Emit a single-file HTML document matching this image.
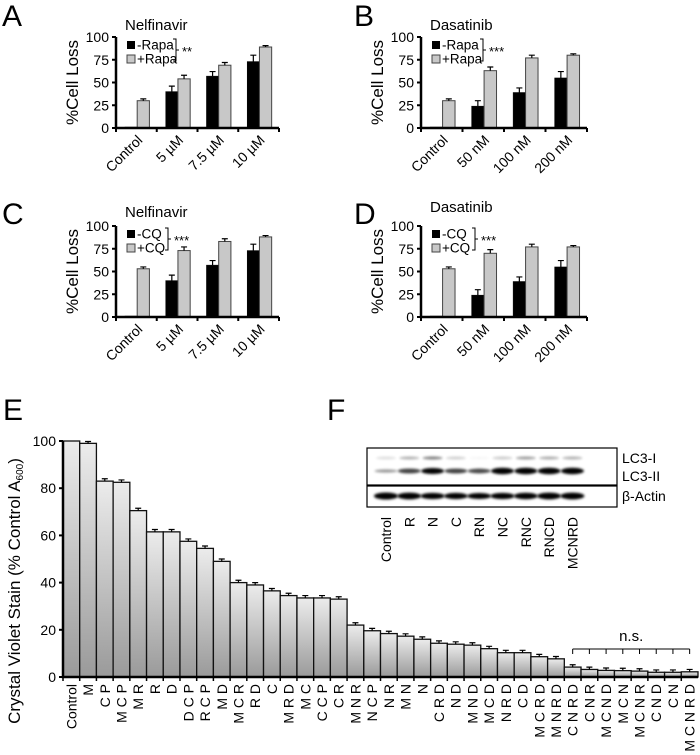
<!DOCTYPE html>
<html><head><meta charset="utf-8"><style>
html,body{margin:0;padding:0;background:#fff;}
svg{display:block;font-family:"Liberation Sans",Arial,sans-serif;}
</style></head><body>
<svg id="fig" width="700" height="755" viewBox="0 0 700 755" xmlns="http://www.w3.org/2000/svg">
<defs>
<linearGradient id="barGrad" x1="0" y1="0" x2="0" y2="1">
<stop offset="0" stop-color="#ececec"/><stop offset="1" stop-color="#9a9a9a"/>
</linearGradient>
<filter id="blur" x="-20%" y="-200%" width="140%" height="500%"><feGaussianBlur stdDeviation="1.2"/></filter>
</defs>
<g font-size="30" fill="#000">
<text x="2" y="26">A</text>
<text x="354" y="26">B</text>
<text x="2" y="224">C</text>
<text x="354" y="224">D</text>
<text x="3" y="420">E</text>
<text x="327" y="420">F</text>
</g>
</svg>
<script>
const NS='http://www.w3.org/2000/svg';
const svg=document.getElementById('fig');
function mk(tag,attrs,parent,text){const e=document.createElementNS(NS,tag);for(const k in attrs)e.setAttribute(k,attrs[k]);if(text!==undefined)e.textContent=text;(parent||svg).appendChild(e);return e;}

// ---- Panels A-D data ----
const nelfLabels=['Control','5 µM','7.5 µM','10 µM'];
const dasaLabels=['Control','50 nM','100 nM','200 nM'];
const aBlack=[1,40,57,73], aBlackErr=[0,6,5,7];
const aGray=[30,54,69,89], aGrayErr=[2,4,3,1.5];
const bBlack=[1,24,39,55], bBlackErr=[0,6,5,7];
const bGray=[30,63,77,80], bGrayErr=[2,4,3,1.5];
const cBlack=[1,40,57,73], cBlackErr=[0,6,5,7];
const cGray=[53,73,83,88], cGrayErr=[2,4,3,1.5];
const dBlack=[1,24,39,55], dBlackErr=[0,6,5,7];
const dGray=[53,70,77,77], dGrayErr=[2,4,3,1.5];
const smallTicks=[0,25,50,75,100];

function smallPanel(id,ox,oy,w,title,titleDy,cats,blk,blkE,gry,gryE,leg,brX,stars){
  const h=91, g=mk('g',{});
  
  
  const y=v=>oy-v/100*h, gw=w/4;
  cats.forEach((c,i)=>{
    const x0=ox+gw*i;
    [[blk,blkE,'#000',0.22],[gry,gryE,'#c8c8c8',0.52]].forEach(([arr,err,col,off],s)=>{
      const bx=x0+gw*off, bw=gw*0.3, top=y(arr[i]);
      const r=mk('rect',{x:bx,y:top,width:bw,height:oy-top,fill:col,stroke:s?'#444':'#000','stroke-width':s?1:0.5},g);
      
      
      if(err[i]>0){const cx=bx+bw/2,et=y(arr[i]+err[i]);
        mk('path',{d:`M${cx},${top}V${et}M${cx-3},${et}H${cx+3}`,stroke:'#000','stroke-width':1.2,fill:'none'},g);}
    });
    const t=mk('text',{x:x0+gw/2+7,y:oy+13,'font-size':14,'text-anchor':'end',transform:`rotate(-45 ${x0+gw/2+7} ${oy+13})`},g,c);
    
    
  });
  mk('path',{d:`M${ox},${oy-h}V${oy}H${ox+w}`,stroke:'#000','stroke-width':2.5,fill:'none'},g);
  for(let i=0;i<=4;i++)mk('line',{x1:ox+gw*i,x2:ox+gw*i,y1:oy,y2:oy+4,stroke:'#000','stroke-width':2},g);
  smallTicks.forEach(v=>{
    mk('line',{x1:ox-4,x2:ox,y1:y(v),y2:y(v),stroke:'#000','stroke-width':2},g);
    const t=mk('text',{x:ox-7,y:y(v)+5,'font-size':14,'text-anchor':'end'},g,v);
    
    
  });
  const yt=mk('text',{x:0,y:0,'font-size':17,'text-anchor':'middle',transform:`translate(${ox-38},${oy-h/2}) rotate(-90)`},g,'%Cell Loss');
  
  
  const tt=mk('text',{x:ox+9,y:oy-h+titleDy,'font-size':15},g,title);
  
  
  const top=oy-h;
  const l1=mk('rect',{x:ox+11,y:top+4,width:8,height:8,fill:'#000'},g);
  
  
  const l2=mk('rect',{x:ox+11,y:top+18,width:8,height:8,fill:'#c8c8c8',stroke:'#444','stroke-width':1},g);
  
  
  const t1=mk('text',{x:ox+21,y:top+12.5,'font-size':13.5},g,leg[0]);
  
  
  const t2=mk('text',{x:ox+21,y:top+26.5,'font-size':13.5},g,leg[1]);
  
  
  const bx=ox+brX;
  mk('path',{d:`M${bx-3},${top+2}H${bx}V${top+24}H${bx-3}M${bx},${top+13}H${bx+3}`,stroke:'#000','stroke-width':1,fill:'none'},g);
  const st=mk('text',{x:bx+6,y:top+19,'font-size':13},g,stars);
  
  
}
smallPanel('a',116,128,163,'Nelfinavir',-7,nelfLabels,aBlack,aBlackErr,aGray,aGrayErr,['-Rapa','+Rapa'],60,'**');
smallPanel('b',421,128,166,'Dasatinib',-7,dasaLabels,bBlack,bBlackErr,bGray,bGrayErr,['-Rapa','+Rapa'],62,'***');
smallPanel('c',116,317,163,'Nelfinavir',-9,nelfLabels,cBlack,cBlackErr,cGray,cGrayErr,['-CQ','+CQ'],52,'***');
smallPanel('d',421,317,166,'Dasatinib',-14,dasaLabels,dBlack,dBlackErr,dGray,dGrayErr,['-CQ','+CQ'],54,'***');

// ---- Panel E data ----
const eCats=['Control','M','C P','M C P','M R','R','D','D C P','R C P','M D','M C R','R D','C','M R D','M C','C C P','C R','M N R','N C P','N R','M N','N','C R D','N D','M N D','M C D','N R D','C D','M C R D','M N R D','C N R D','C N R','M C N D','M C N','M C N R','C N D','C N','M C N R D'];
const eVals=[100,99,83,82.5,70.5,61.5,61.5,57.5,54.5,49,40,39,36.5,34.5,33.5,33.5,33,22,19.6,18.4,17.3,16,14.3,13.9,13.5,12,10.3,10.3,8.6,7.7,4.2,3.2,2.8,2.7,2.5,2,2,2.2];
const eErr=[0,0.8,1,1,1,1,1,1,1,1,1,1,1,1,1,1,1,1,1,1,1,1,1,1,1,1,1,1,1,1,1,1,1,1,1,1,1,1];
const eTicks=[0,20,40,60,80,100];
(function(){
  const ox=63, oy=677, h=236, w=635;
  const g=mk('g',{});
  
  
  const y=v=>oy-v/100*h, bw=w/eCats.length;
  eCats.forEach((c,i)=>{
    const x=ox+bw*i, top=y(eVals[i]);
    const r=mk('rect',{x:x,y:top,width:bw,height:oy-top,fill:'url(#barGrad)',stroke:'#111','stroke-width':1.3},g);
    
    
    if(eErr[i]>0){const cx=x+bw/2,et=y(eVals[i]+eErr[i]);
      mk('path',{d:`M${cx},${top}V${et}M${cx-3},${et}H${cx+3}`,stroke:'#000','stroke-width':1.2,fill:'none'},g);}
    mk('line',{x1:x,x2:x,y1:oy,y2:oy+4,stroke:'#000','stroke-width':1.5},g);
    const lx=x+bw/2+5;
    const t=mk('text',{x:lx,y:oy+7,'font-size':14,'text-anchor':'end',transform:`rotate(-90 ${lx} ${oy+7})`},g,c);
    
    
  });
  mk('path',{d:`M${ox},${y(100)}V${oy}H${ox+w}`,stroke:'#000','stroke-width':2.5,fill:'none'},g);
  eTicks.forEach(v=>{
    mk('line',{x1:ox-4,x2:ox,y1:y(v),y2:y(v),stroke:'#000','stroke-width':2},g);
    const t=mk('text',{x:ox-7,y:y(v)+5,'font-size':14,'text-anchor':'end'},g,v);
    
    
  });
  const yt=mk('text',{x:0,y:0,'font-size':17,'text-anchor':'middle',transform:`translate(20,${oy-h/2+32}) rotate(-90)`},g);
  
  
  yt.appendChild(document.createTextNode('Crystal Violet Stain (% Control A'));
  mk('tspan',{'font-size':10,dy:3},yt,'600');
  mk('tspan',{dy:-3},yt,')');
  const x1=ox+bw*30.5, x2=ox+bw*37.5, by=649;
  let d=`M${x1},${by}H${x2}`;
  for(let i=30;i<=37;i++){const cx=ox+bw*(i+0.5);d+=`M${cx},${by}V${by+5}`;}
  const br=mk('path',{d:d,stroke:'#000','stroke-width':1,fill:'none'},g);
  
  
  const ns=mk('text',{x:(x1+x2)/2,y:641,'font-size':15,'text-anchor':'middle'},g,'n.s.');
  
  
})();

// ---- Panel F (western blot) ----
const fLanes=['Control','R','N','C','RN','NC','RNC','RNCD','MCNRD'];
const fLC3I=[0.12,0.3,0.5,0.18,0.03,0.2,0.38,0.32,0.3];
const fLC3II=[0.3,0.65,0.92,0.65,0.62,1,1,1,1];
const fActin=[1,0.95,0.9,0.88,0.85,0.9,0.92,0.95,0.95];
(function(){
  const g=mk('g',{});
  
  
  const b1=mk('rect',{x:367,y:448,width:250,height:37,fill:'#fff',stroke:'#000','stroke-width':1.2},g);
  
  
  const b2=mk('rect',{x:367,y:486,width:250,height:21,fill:'#fff',stroke:'#000','stroke-width':1.2},g);
  
  
  fLanes.forEach((l,i)=>{
    const cx=386+i*23.3;
    const e1=mk('ellipse',{cx:cx,cy:458,rx:10,ry:1.5,fill:'#000',opacity:fLC3I[i],filter:'url(#blur)'},g);
    
    
    const e2=mk('ellipse',{cx:cx,cy:471,rx:11.5,ry:1+2.2*fLC3II[i],fill:'#000',opacity:Math.min(1,fLC3II[i]+0.1),filter:'url(#blur)'},g);
    
    
    const e3=mk('ellipse',{cx:cx,cy:496,rx:12,ry:3.5*fActin[i],fill:'#000',filter:'url(#blur)'},g);
    
    
    const t=mk('text',{x:cx+5,y:517,'font-size':14,'text-anchor':'end',transform:`rotate(-90 ${cx+5} 517)`},g,l);
    
    
  });
  [['LC3-I',463],['LC3-II',481],['β-Actin',501]].forEach(([s,yy])=>{
    const t=mk('text',{x:622,y:yy,'font-size':14},g,s);
    
    
  });
})();
</script>
</body></html>
